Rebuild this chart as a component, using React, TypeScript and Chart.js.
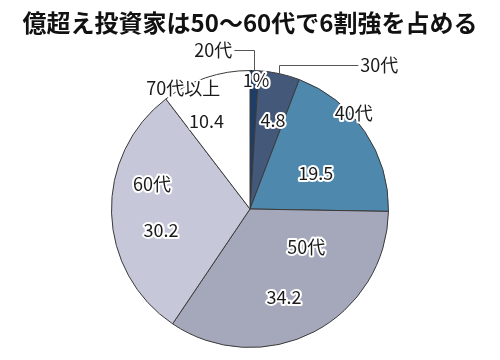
import React, { useEffect, useRef } from "react";
import { Chart, registerables } from "chart.js";

Chart.register(...registerables);

const title = "億超え投資家は50～60代で6割強を占める";
const categories = ["20代", "30代", "40代", "50代", "60代", "70代以上"];
const values = [1, 4.8, 19.5, 34.2, 30.2, 10.4];
const valueLabels = ["1%", "4.8", "19.5", "34.2", "30.2", "10.4"];
const colors = ["#1d3e68", "#44587a", "#4e88ad", "#a5a8ba", "#c6c8d9", "#ffffff"];

// label placement: angle offset (deg) from slice middle, radius fraction
type Place = { dAng: number; frac: number };
type NamePlace =
  | { kind: "inside"; dAng: number; frac: number }
  | { kind: "leader"; rise: number; run: number };
const namePlaces: NamePlace[] = [
  { kind: "leader", rise: 21, run: -20 },
  { kind: "leader", rise: 9, run: 79 },
  { kind: "inside", dAng: -8.6, frac: 1.02 },
  { kind: "inside", dAng: -28.3, frac: 0.49 },
  { kind: "inside", dAng: 16, frac: 0.73 },
  { kind: "inside", dAng: -10.3, frac: 0.995 },
];
const valuePlaces: Place[] = [
  { dAng: 0.9, frac: 0.93 },
  { dAng: 2.3, frac: 0.66 },
  { dAng: 5.5, frac: 0.54 },
  { dAng: 6.4, frac: 0.68 },
  { dAng: -11.6, frac: 0.66 },
  { dAng: -7.6, frac: 0.71 },
];

const FONT = '"Noto Sans CJK JP", "Noto Sans", sans-serif';

function outlinedText(ctx: CanvasRenderingContext2D, text: string, x: number, y: number, align: CanvasTextAlign, outline: boolean) {
  ctx.textAlign = align;
  ctx.textBaseline = "middle";
  if (outline) {
    ctx.lineJoin = "round";
    ctx.lineWidth = 4;
    ctx.strokeStyle = "#ffffff";
    ctx.strokeText(text, x, y);
  }
  ctx.fillStyle = "#1a1a1a";
  ctx.fillText(text, x, y);
}

const labelPlugin = {
  id: "labelPlugin",
  afterDraw(chart: any) {
    const ctx: CanvasRenderingContext2D = chart.ctx;
    const meta = chart.getDatasetMeta(0);
    ctx.save();
    // title
    ctx.font = `bold 24px ${FONT}`;
    ctx.fillStyle = "#111";
    ctx.textAlign = "center";
    ctx.textBaseline = "middle";
    ctx.fillText(title, chart.width / 2, 23);

    ctx.font = `18px ${FONT}`;
    meta.data.forEach((arc: any, i: number) => {
      const p = arc.getProps(["x", "y", "startAngle", "endAngle", "outerRadius"], true);
      const mid = (p.startAngle + p.endAngle) / 2;
      const at = (dAng: number, frac: number) => {
        const a = mid + (dAng * Math.PI) / 180;
        return { x: p.x + Math.cos(a) * p.outerRadius * frac, y: p.y + Math.sin(a) * p.outerRadius * frac };
      };
      const np = namePlaces[i];
      if (np.kind === "inside") {
        const q = at(np.dAng, np.frac);
        outlinedText(ctx, categories[i], q.x, q.y, "center", true);
      } else {
        const s = at(0, 1);
        const ey = s.y - np.rise;
        const ex = s.x + np.run;
        ctx.strokeStyle = "#555";
        ctx.lineWidth = 1;
        ctx.beginPath();
        ctx.moveTo(Math.round(s.x) + 0.5, s.y);
        ctx.lineTo(Math.round(s.x) + 0.5, Math.round(ey) + 0.5);
        ctx.lineTo(ex, Math.round(ey) + 0.5);
        ctx.stroke();
        outlinedText(ctx, categories[i], ex + (np.run < 0 ? -2 : 2), ey + 1, np.run < 0 ? "right" : "left", false);
      }
      const vp = valuePlaces[i];
      const v = at(vp.dAng, vp.frac);
      outlinedText(ctx, valueLabels[i], v.x, v.y, "center", true);
    });
    ctx.restore();
  },
};

export default function App() {
  const ref = useRef<HTMLCanvasElement | null>(null);
  useEffect(() => {
    document.body.style.margin = "0";
    const canvas = ref.current!;
    const chart = new Chart(canvas, {
      type: "pie",
      data: {
        labels: categories,
        datasets: [
          {
            data: values,
            backgroundColor: colors,
            borderColor: "#3a3a3a",
            borderWidth: 1,
          },
        ],
      },
      options: {
        responsive: false,
        animation: false,
        layout: { padding: { top: 70, bottom: 12, left: 0, right: 0 } },
        plugins: {
          legend: { display: false },
          tooltip: { enabled: false },
          title: { display: false },
        },
      },
      plugins: [labelPlugin],
    });
    return () => chart.destroy();
  }, []);
  return (
    <div style={{ width: 500, height: 360 }}>
      <canvas ref={ref} width={500} height={360} style={{ display: "block" }} />
    </div>
  );
}
